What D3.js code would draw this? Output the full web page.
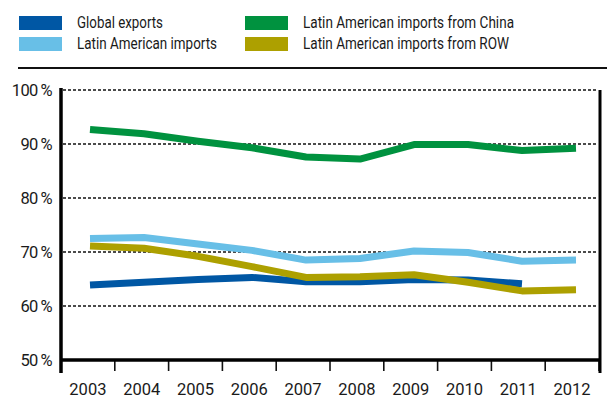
<!DOCTYPE html>
<html>
<head>
<meta charset="utf-8">
<script src="https://cdn.jsdelivr.net/npm/d3@7"></script>
<style>
  html, body { margin: 0; padding: 0; background: #fff; }
  svg { display: block; }
  text { font-family: Roboto, "Noto Sans", sans-serif; fill: #1a1a1a; }
</style>
</head>
<body>
<svg id="chart" width="608" height="406"></svg>
<script>
// Years on the x axis
const years = [2003, 2004, 2005, 2006, 2007, 2008, 2009, 2010, 2011, 2012];

// Shares (%) per series
const globalExports = [63.9, 64.4, 64.9, 65.3, 64.5, 64.5, 64.9, 64.8, 64.1];            // 2003–2011
const latamImports   = [72.5, 72.7, 71.5, 70.3, 68.5, 68.8, 70.2, 69.9, 68.3, 68.5];
const importsChina   = [92.7, 91.9, 90.5, 89.3, 87.6, 87.2, 89.9, 89.9, 88.8, 89.2];
const importsROW     = [71.1, 70.7, 69.2, 67.3, 65.3, 65.4, 65.8, 64.4, 62.8, 63.0];

const seriesNames  = ["Global exports", "Latin American imports", "Latin American imports from China", "Latin American imports from ROW"];
const seriesColors = ["#0057a4", "#68bfe7", "#00923f", "#ada000"];
const seriesValues = [globalExports, latamImports, importsChina, importsROW];

const yTicks = [50, 60, 70, 80, 90, 100];

const svg = d3.select("#chart");

// Plot frame
const plotLeft = 61, plotRight = 599, plotTop = 90, plotBottom = 360;

// Band scale for the year axis (labels sit in the middle of each band)
const xBand = d3.scaleBand().domain(years).range([plotLeft, plotRight]).padding(0);
// Data positions along the year axis
const x = d3.scaleLinear().domain([2003, 2012]).range([90, 576]);
const y = d3.scaleLinear().domain([50, 100]).range([plotBottom, plotTop]);

// Legend: swatch + condensed label
const legend = svg.append("g");
const legendPos = [[19, 16], [19, 37], [245, 16], [245, 37]];
const legendTextWidth = [86, 140, 211, 206];
seriesNames.forEach((name, i) => {
  const [lx, ly] = legendPos[i];
  legend.append("rect").attr("x", lx).attr("y", ly).attr("width", 43).attr("height", 14)
    .attr("fill", seriesColors[i]);
  legend.append("text").attr("x", lx + 58).attr("y", ly + 12)
    .attr("font-size", 17)
    .attr("textLength", legendTextWidth[i]).attr("lengthAdjust", "spacingAndGlyphs")
    .text(name);
});

// Rule under the legend
svg.append("line").attr("x1", 18).attr("x2", 607).attr("y1", 68).attr("y2", 68)
  .attr("stroke", "#111").attr("stroke-width", 2);

// Dotted gridlines
svg.append("g").selectAll("line").data(yTicks.filter(v => v > 50)).join("line")
  .attr("x1", plotLeft + 2).attr("x2", plotRight - 1)
  .attr("y1", d => y(d)).attr("y2", d => y(d))
  .attr("stroke", "#111").attr("stroke-width", 1.3).attr("stroke-dasharray", "3,2");

// Y axis
const yAxis = svg.append("g").attr("transform", `translate(${plotLeft},0)`)
  .call(d3.axisLeft(y).tickValues(yTicks).tickSize(0).tickPadding(9).tickFormat(d => d + "\u2009%"));
yAxis.select(".domain").remove();
yAxis.selectAll("text").attr("font-size", 16.5).attr("dy", "0.36em")
  .attr("letter-spacing", "-0.6")
  .style("font-family", "Roboto, sans-serif").attr("fill", "#1a1a1a");

// X axis: tick marks between bands, year labels centred
const xAxisG = svg.append("g");
const tickPositions = years.map(d => xBand(d)).concat([xBand(years[years.length - 1]) + xBand.bandwidth()]);
xAxisG.selectAll("line").data(tickPositions).join("line")
  .attr("x1", d => d).attr("x2", d => d).attr("y1", plotBottom).attr("y2", plotBottom + 11)
  .attr("stroke", "#111").attr("stroke-width", 1.6);
xAxisG.selectAll("text").data(years).join("text")
  .attr("x", d => xBand(d) + xBand.bandwidth() / 2).attr("y", 395)
  .attr("text-anchor", "middle").attr("font-size", 16.5).text(d => d);

// Frame lines
svg.append("line").attr("x1", plotLeft).attr("x2", plotLeft).attr("y1", plotTop - 2).attr("y2", plotBottom + 13)
  .attr("stroke", "#000").attr("stroke-width", 3.5);
svg.append("line").attr("x1", plotRight + 1).attr("x2", plotRight + 1).attr("y1", plotTop).attr("y2", plotBottom + 13)
  .attr("stroke", "#000").attr("stroke-width", 3);
svg.append("line").attr("x1", plotLeft).attr("x2", plotRight + 2).attr("y1", plotBottom).attr("y2", plotBottom)
  .attr("stroke", "#000").attr("stroke-width", 3.5);

// Series lines
const line = d3.line().x((d, i) => x(years[i])).y(d => y(d));
svg.append("g").selectAll("path").data(seriesValues).join("path")
  .attr("d", d => line(d))
  .attr("fill", "none")
  .attr("stroke", (d, i) => seriesColors[i])
  .attr("stroke-width", 7)
  .attr("stroke-linejoin", "round");
</script>
</body>
</html>
